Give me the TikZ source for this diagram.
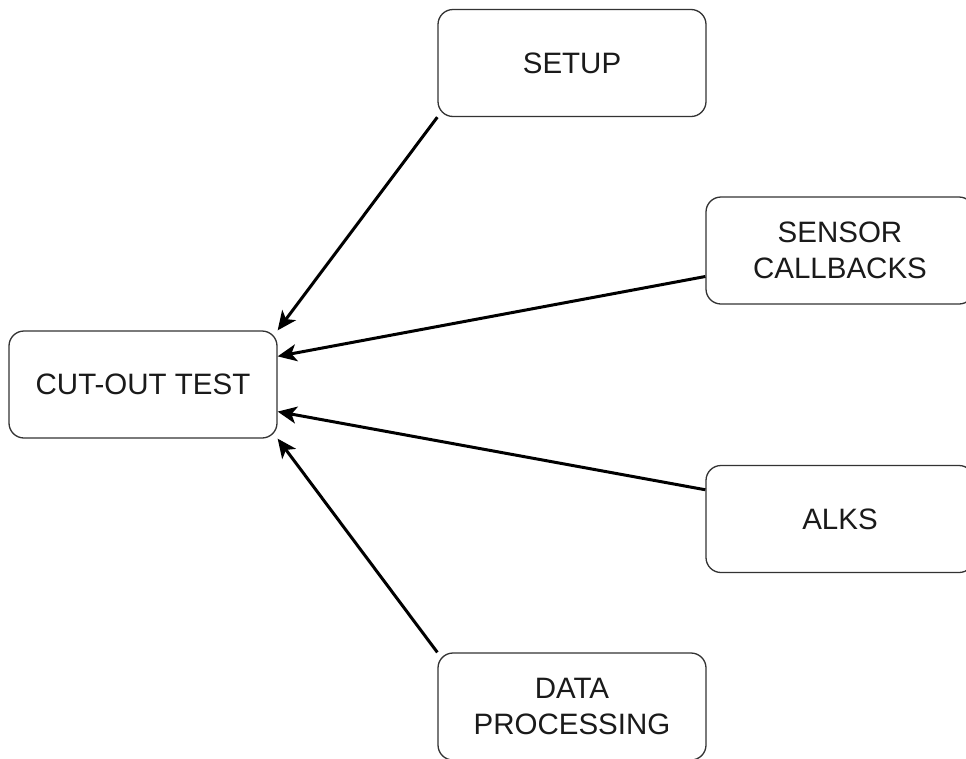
\documentclass[tikz,border=0pt]{standalone}
\usepackage{fontspec}
\setmainfont{Liberation Sans}
\usetikzlibrary{arrows.meta,calc}
\definecolor{boxline}{HTML}{333333}
\definecolor{txt}{HTML}{1A1A1A}
\begin{document}
\begin{tikzpicture}[x=1pt,y=-1pt,
  blk/.style={draw=boxline, line width=1.3pt, rounded corners=15pt, rectangle,
    minimum width=268pt, minimum height=107pt, inner sep=0pt, align=center,
    text=txt, font=\fontsize{29.5}{35.5}\selectfont},
  conn/.style={line width=3pt, -{Stealth[length=19pt,width=17pt,inset=5pt]}}]
\useasboundingbox[fill=white] (0,0) rectangle (966,758);
\node[blk] (setup) at (572,63) {SETUP};
\node[blk] (sensor) at (840,250.5) {SENSOR\\CALLBACKS};
\node[blk] (cut) at (143,384.5) {CUT-OUT TEST};
\node[blk] (alks) at (840,519) {ALKS};
\node[blk] (data) at (572,706.5) {DATA\\PROCESSING};
\draw[conn] (setup.south west) -- (cut.north east);
\draw[conn] ($(sensor.south west)!0.26!(sensor.north west)$) -- ($(cut.north east)!0.24!(cut.south east)$);
\draw[conn] ($(alks.north west)!0.23!(alks.south west)$) -- ($(cut.north east)!0.75!(cut.south east)$);
\draw[conn] (data.north west) -- (cut.south east);
\end{tikzpicture}
\end{document}
